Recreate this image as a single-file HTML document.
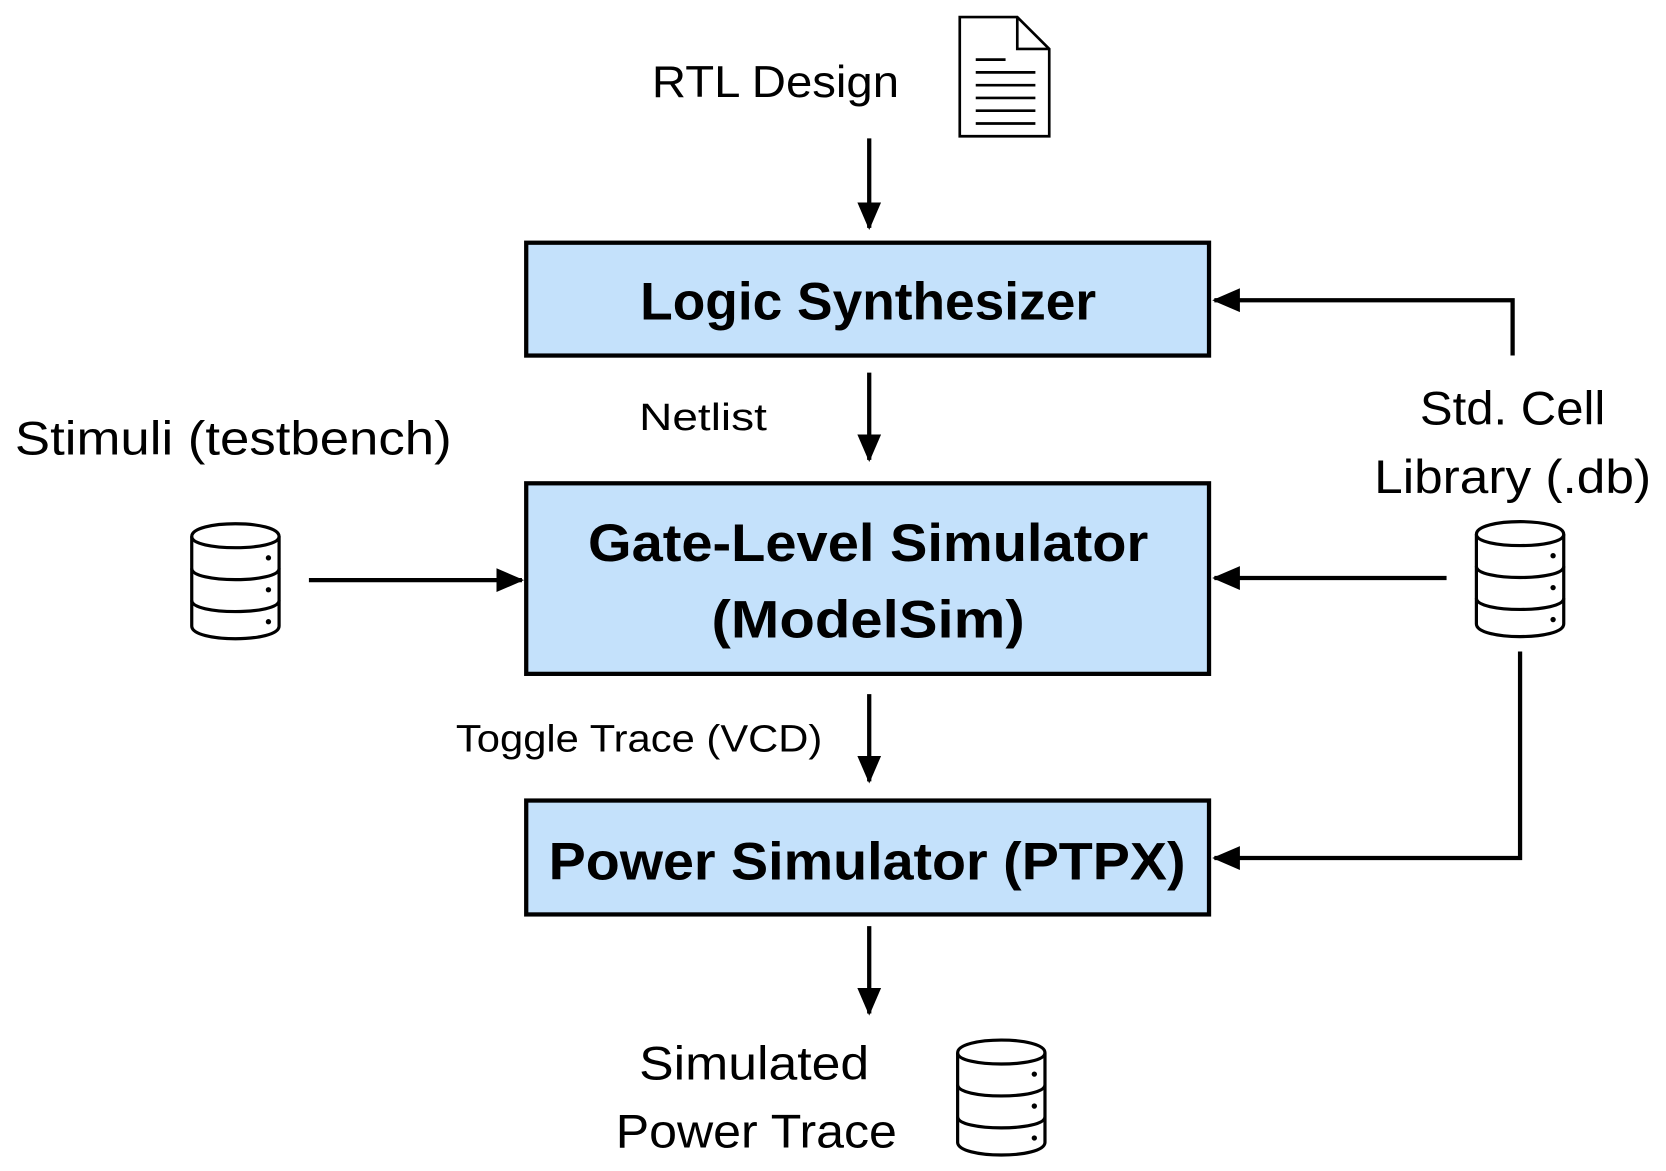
<!DOCTYPE html>
<html><head><style>html,body{margin:0;padding:0;background:#fff;}svg{display:block}</style></head>
<body>
<svg width="1666" height="1171" viewBox="0 0 1564 1100" preserveAspectRatio="none" xmlns="http://www.w3.org/2000/svg" font-family="Liberation Sans, sans-serif">
<defs>
<marker id="ah" markerWidth="7" markerHeight="7" refX="6" refY="3.5" orient="auto" markerUnits="strokeWidth">
<path d="M0,0.7 L6.5,3.5 L0,6.3 Z" fill="#000"/>
</marker>
<g id="cyl" fill="#fff" stroke="#000" stroke-width="3">
<path d="M0,12 C0,-4 82,-4 82,12 L82,96 C82,112 0,112 0,96 Z"/>
<path d="M0,12 C0,26 82,26 82,12" fill="none"/>
<path d="M0,42 C0,56 82,56 82,42" fill="none"/>
<path d="M0,72 C0,86 82,86 82,72" fill="none"/>
<circle cx="72" cy="32" r="2.5" fill="#000" stroke="none"/>
<circle cx="72" cy="62" r="2.5" fill="#000" stroke="none"/>
<circle cx="72" cy="92" r="2.5" fill="#000" stroke="none"/>
</g>
</defs>

<path d="M901,16 L955,16 L985,46 L985,128 L901,128 Z" fill="#fff" stroke="#000" stroke-width="2.5"/>
<path d="M955,16 L955,46 L985,46" fill="none" stroke="#000" stroke-width="2.5"/>
<g stroke="#000" stroke-width="2.5">
<line x1="916" y1="56" x2="944" y2="56"/>
<line x1="916" y1="68" x2="972" y2="68"/>
<line x1="916" y1="80" x2="972" y2="80"/>
<line x1="916" y1="92" x2="972" y2="92"/>
<line x1="916" y1="104" x2="972" y2="104"/>
<line x1="916" y1="116" x2="972" y2="116"/>
</g>

<text x="728" y="91" font-size="42" text-anchor="middle" textLength="232" lengthAdjust="spacingAndGlyphs">RTL Design</text>

<rect x="494" y="228" width="641" height="106" fill="#c4e1fb" stroke="#000" stroke-width="4"/>
<rect x="494" y="454" width="641" height="179" fill="#c4e1fb" stroke="#000" stroke-width="4"/>
<rect x="494" y="752" width="641" height="107" fill="#c4e1fb" stroke="#000" stroke-width="4"/>

<text x="815" y="300" font-size="50" font-weight="bold" text-anchor="middle" textLength="428" lengthAdjust="spacingAndGlyphs">Logic Synthesizer</text>
<text x="815" y="527" font-size="50" font-weight="bold" text-anchor="middle" textLength="526" lengthAdjust="spacingAndGlyphs">Gate-Level Simulator</text>
<text x="815" y="599" font-size="50" font-weight="bold" text-anchor="middle" textLength="294" lengthAdjust="spacingAndGlyphs">(ModelSim)</text>
<text x="814" y="826" font-size="50" font-weight="bold" text-anchor="middle" textLength="598" lengthAdjust="spacingAndGlyphs">Power Simulator (PTPX)</text>

<text x="600" y="404" font-size="36" textLength="120" lengthAdjust="spacingAndGlyphs">Netlist</text>
<text x="14" y="427" font-size="44" textLength="410" lengthAdjust="spacingAndGlyphs">Stimuli (testbench)</text>
<text x="1420" y="399" font-size="44" text-anchor="middle" textLength="174" lengthAdjust="spacingAndGlyphs">Std. Cell</text>
<text x="1420" y="463" font-size="44" text-anchor="middle" textLength="260" lengthAdjust="spacingAndGlyphs">Library (.db)</text>
<text x="428" y="706" font-size="36" textLength="344" lengthAdjust="spacingAndGlyphs">Toggle Trace (VCD)</text>
<text x="708" y="1014" font-size="44" text-anchor="middle" textLength="216" lengthAdjust="spacingAndGlyphs">Simulated</text>
<text x="710" y="1078" font-size="44" text-anchor="middle" textLength="264" lengthAdjust="spacingAndGlyphs">Power Trace</text>

<use href="#cyl" x="180" y="492"/>
<use href="#cyl" x="1386" y="490"/>
<use href="#cyl" x="899" y="977"/>

<g stroke="#000" stroke-width="4" fill="none" marker-end="url(#ah)">
<line x1="816" y1="130" x2="816" y2="214"/>
<line x1="816" y1="350" x2="816" y2="432"/>
<line x1="816" y1="652" x2="816" y2="734"/>
<line x1="816" y1="870" x2="816" y2="952"/>
<line x1="290" y1="545" x2="490" y2="545"/>
<line x1="1358" y1="543" x2="1140" y2="543"/>
<polyline points="1420,334 1420,282 1140,282"/>
<polyline points="1427,612 1427,806 1140,806"/>
</g>
</svg>
</body></html>
